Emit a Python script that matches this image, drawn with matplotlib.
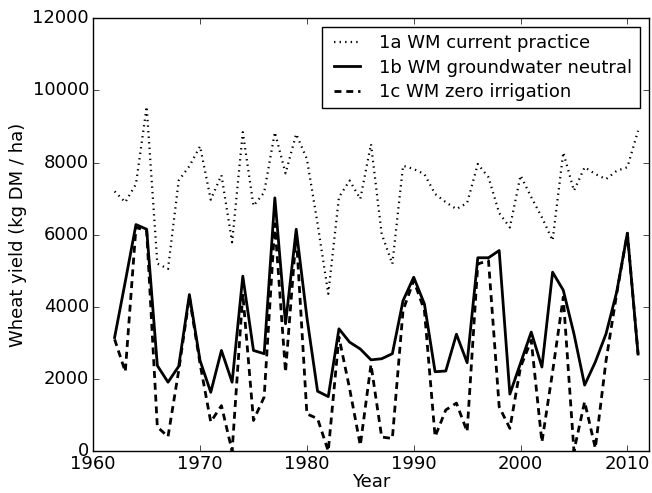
import numpy as np
import matplotlib
matplotlib.use("Agg")
import matplotlib.pyplot as plt

years = np.arange(1962, 2012)

# 1a WM current practice (dotted)
yield_current = [7200, 6900, 7400, 9550, 5200, 5050, 7500, 7900, 8450, 6970,
                 7650, 5790, 8840, 6800, 7170, 8840, 7700, 8790, 8100, 6300,
                 4360, 7040, 7500, 6990, 8510, 6020, 5190, 7910, 7820, 7680,
                 7130, 6900, 6710, 6880, 7960, 7590, 6600, 6200, 7640, 7040,
                 6480, 5840, 8280, 7220, 7870, 7680, 7540, 7770, 7870, 8880]

# 1b WM groundwater neutral (solid)
yield_gw_neutral = [3150, 4700, 6280, 6150, 2370, 1910, 2350, 4340, 2510, 1630,
                    2790, 1910, 4850, 2790, 2700, 7020, 3530, 6150, 3710, 1660,
                    1510, 3390, 3020, 2830, 2530, 2560, 2700, 4170, 4820, 4080,
                    2200, 2220, 3240, 2450, 5360, 5360, 5560, 1580, 2440, 3300,
                    2330, 4960, 4460, 3250, 1830, 2470, 3250, 4410, 6040, 2690]

# 1c WM zero irrigation (dashed)
yield_zero_irr = [3100, 2200, 6200, 6110, 670, 400, 2230, 4270, 2420, 810,
                  1260, 0, 4360, 850, 1500, 6300, 2190, 6020, 1030, 900,
                  0, 3160, 1730, 160, 2400, 390, 350, 3900, 4730, 3900,
                  400, 1140, 1330, 540, 5190, 5280, 1230, 630, 2330, 3070,
                  250, 2200, 4270, 0, 1370, 80, 2500, 4370, 6040, 2690]

plt.style.use('classic')
plt.rcParams['font.family'] = ['DejaVu Sans']
plt.rcParams['axes.formatter.useoffset'] = False

fig = plt.figure(figsize=(6.52, 4.93), dpi=100, facecolor='white')
ax = fig.add_axes([0.143, 0.085, 0.852, 0.878])

ax.plot(years, yield_current, color='k', linestyle=':', linewidth=1.6,
        label='1a WM current practice')
ax.plot(years, yield_gw_neutral, color='k', linestyle='-', linewidth=2.0,
        label='1b WM groundwater neutral')
ax.plot(years, yield_zero_irr, color='k', linestyle='--', linewidth=2.0,
        dashes=(5, 3.5), label='1c WM zero irrigation')

ax.set_xlim(1960, 2012)
ax.set_ylim(0, 12000)
ax.set_xticks([1960, 1970, 1980, 1990, 2000, 2010])
ax.set_yticks(range(0, 12001, 2000))
ax.tick_params(labelsize=13, pad=3)
ax.set_xlabel('Year', fontsize=13, labelpad=0)
ax.set_ylabel('Wheat yield (kg DM / ha)', fontsize=13, labelpad=4)

leg = ax.legend(loc='upper right', fontsize=13, frameon=True, fancybox=False,
                handlelength=2, borderpad=0.4, labelspacing=0.35,
                borderaxespad=0.5)
leg.get_frame().set_edgecolor('k')

fig.savefig('out.png', dpi=100, facecolor='white')
